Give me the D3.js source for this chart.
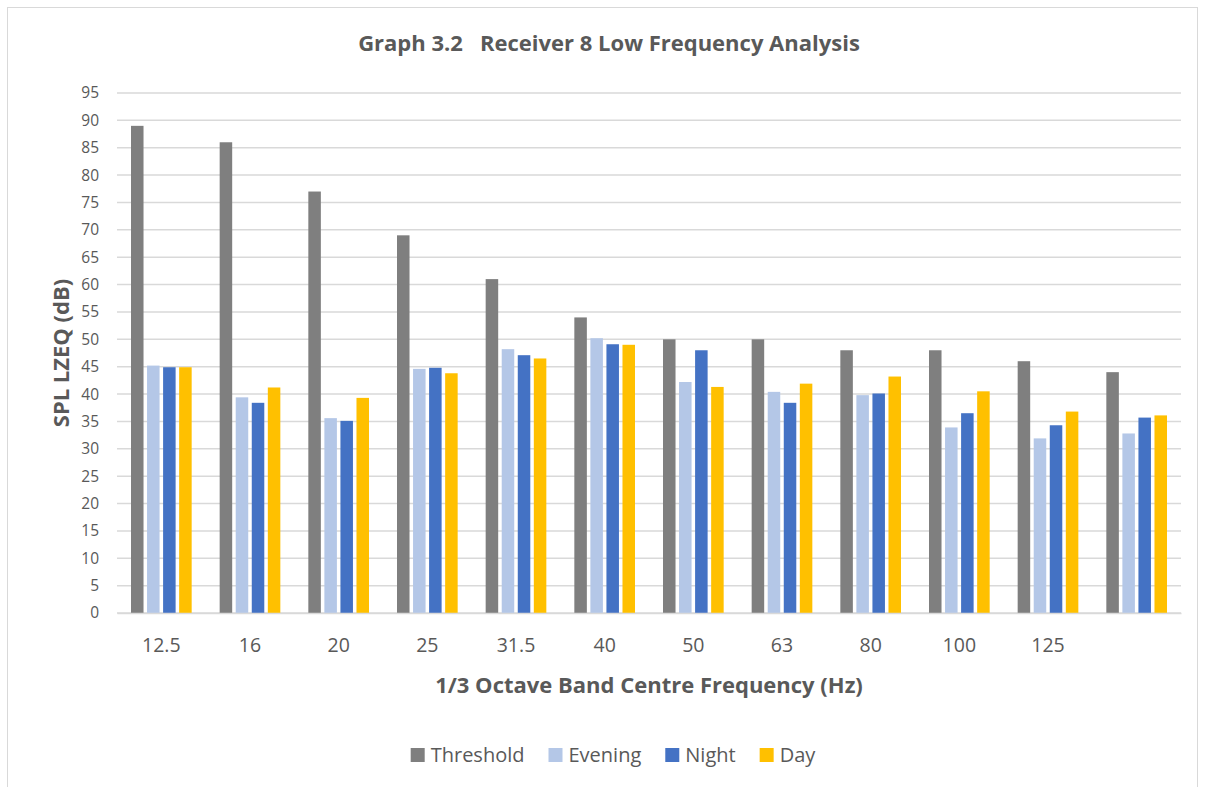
<!DOCTYPE html>
<html>
<head>
<meta charset="UTF-8" />
<title>Graph 3.2 Receiver 8 Low Frequency Analysis</title>
<script src="https://cdn.jsdelivr.net/npm/d3@7"></script>
<style>
    body { margin: 0; background: #fff; }
    text { font-family: "Open Sans", "Noto Sans", sans-serif; fill: #595959; }
</style>
</head>
<body>
<svg id="chart" width="1205" height="787"></svg>
<script>
// categories (last band has no label in the original)
var bands = ["12.5", "16", "20", "25", "31.5", "40", "50", "63", "80", "100", "125", ""]
var seriesNames = ["Threshold", "Evening", "Night", "Day"]
var seriesColors = ["#7f7f7f", "#b4c7e7", "#4472c4", "#ffc000"]

var threshold = [89, 86, 77, 69, 61, 54, 50, 50, 48, 48, 46, 44]
var evening = [45.2, 39.4, 35.6, 44.6, 48.2, 50.2, 42.2, 40.4, 39.8, 33.9, 31.9, 32.8]
var night = [44.9, 38.4, 35.1, 44.8, 47.1, 49.1, 48.0, 38.4, 40.1, 36.5, 34.3, 35.7]
var day = [44.9, 41.2, 39.3, 43.8, 46.5, 49.0, 41.3, 41.9, 43.2, 40.5, 36.8, 36.1]

var yTicks = d3.range(0, 96, 5)

function drawChart() {
    var svg = d3.select("#chart")
    var plotLeft = 117, plotRight = 1181, plotTop = 93, plotBottom = 613

    // chart frame
    svg.append("rect")
        .attr("x", 7.5).attr("y", 7.5)
        .attr("width", 1190).attr("height", 800)
        .attr("fill", "none").attr("stroke", "#d9d9d9").attr("stroke-width", 1)

    var x = d3.scaleBand().domain(d3.range(bands.length)).range([plotLeft, plotRight])
    var xs = d3.scaleBand().domain(d3.range(4))
        .range([14, x.bandwidth() - 14]).paddingInner(0.22)
    var y = d3.scaleLinear().domain([0, 95]).range([plotBottom, plotTop])

    // gridlines
    svg.append("g").selectAll("line")
        .data(yTicks)
        .enter()
        .append("line")
        .attr("x1", plotLeft).attr("x2", plotRight)
        .attr("y1", d => y(d)).attr("y2", d => y(d))
        .attr("stroke", "#d9d9d9").attr("stroke-width", 1.5)

    // y axis labels
    var yAxis = d3.axisLeft(y).tickValues(yTicks).tickSize(0).tickPadding(0)
    var yAxisG = svg.append("g").attr("transform", "translate(99, 0)").call(yAxis)
    yAxisG.select(".domain").remove()
    yAxisG.selectAll("text").style("font-size", "15.5px").attr("fill", "#595959")

    // bars
    var allSeries = [threshold, evening, night, day]
    allSeries.forEach(function (vals, s) {
        svg.append("g").selectAll("rect")
            .data(vals)
            .enter()
            .append("rect")
            .attr("x", (d, i) => x(i) + xs(s))
            .attr("width", xs.bandwidth())
            .attr("y", d => y(d))
            .attr("height", d => y(0) - y(d))
            .attr("fill", seriesColors[s])
    })

    // x axis
    var xAxis = d3.axisBottom(x).tickFormat(i => bands[i]).tickSize(0).tickPadding(0)
    var xAxisG = svg.append("g").attr("transform", "translate(0," + plotBottom + ")").call(xAxis)
    xAxisG.select(".domain").attr("stroke", "#d9d9d9").attr("stroke-width", 1.5)
    xAxisG.selectAll("text").attr("y", 39).attr("dy", null)
        .style("font-size", "19.5px").attr("fill", "#595959")

    // titles
    svg.append("text")
        .attr("x", 609).attr("y", 51)
        .attr("text-anchor", "middle")
        .style("font-size", "22px").style("font-weight", "bold")
        .style("white-space", "pre")
        .text("Graph 3.2   Receiver 8 Low Frequency Analysis")

    svg.append("text")
        .attr("x", (plotLeft + plotRight) / 2).attr("y", 693)
        .attr("text-anchor", "middle")
        .style("font-size", "22px").style("font-weight", "bold")
        .text("1/3 Octave Band Centre Frequency (Hz)")

    svg.append("text")
        .attr("transform", "translate(69," + (plotTop + plotBottom) / 2 + ") rotate(-90)")
        .attr("text-anchor", "middle")
        .style("font-size", "22px").style("font-weight", "bold")
        .text("SPL LZEQ (dB)")

    // legend
    var legend = svg.append("g")
    var lx = 0
    seriesNames.forEach(function (name, i) {
        var g = legend.append("g").attr("transform", "translate(" + lx + ",0)")
        g.append("rect").attr("x", 0).attr("y", -14).attr("width", 14).attr("height", 14)
            .attr("fill", seriesColors[i])
        var t = g.append("text").attr("x", 20).attr("y", 0)
            .style("font-size", "20px").text(name)
        lx += 20 + t.node().getComputedTextLength() + 24
    })
    lx -= 24
    legend.attr("transform", "translate(" + (613 - lx / 2) + ",762)")
}

drawChart()
</script>
</body>
</html>
